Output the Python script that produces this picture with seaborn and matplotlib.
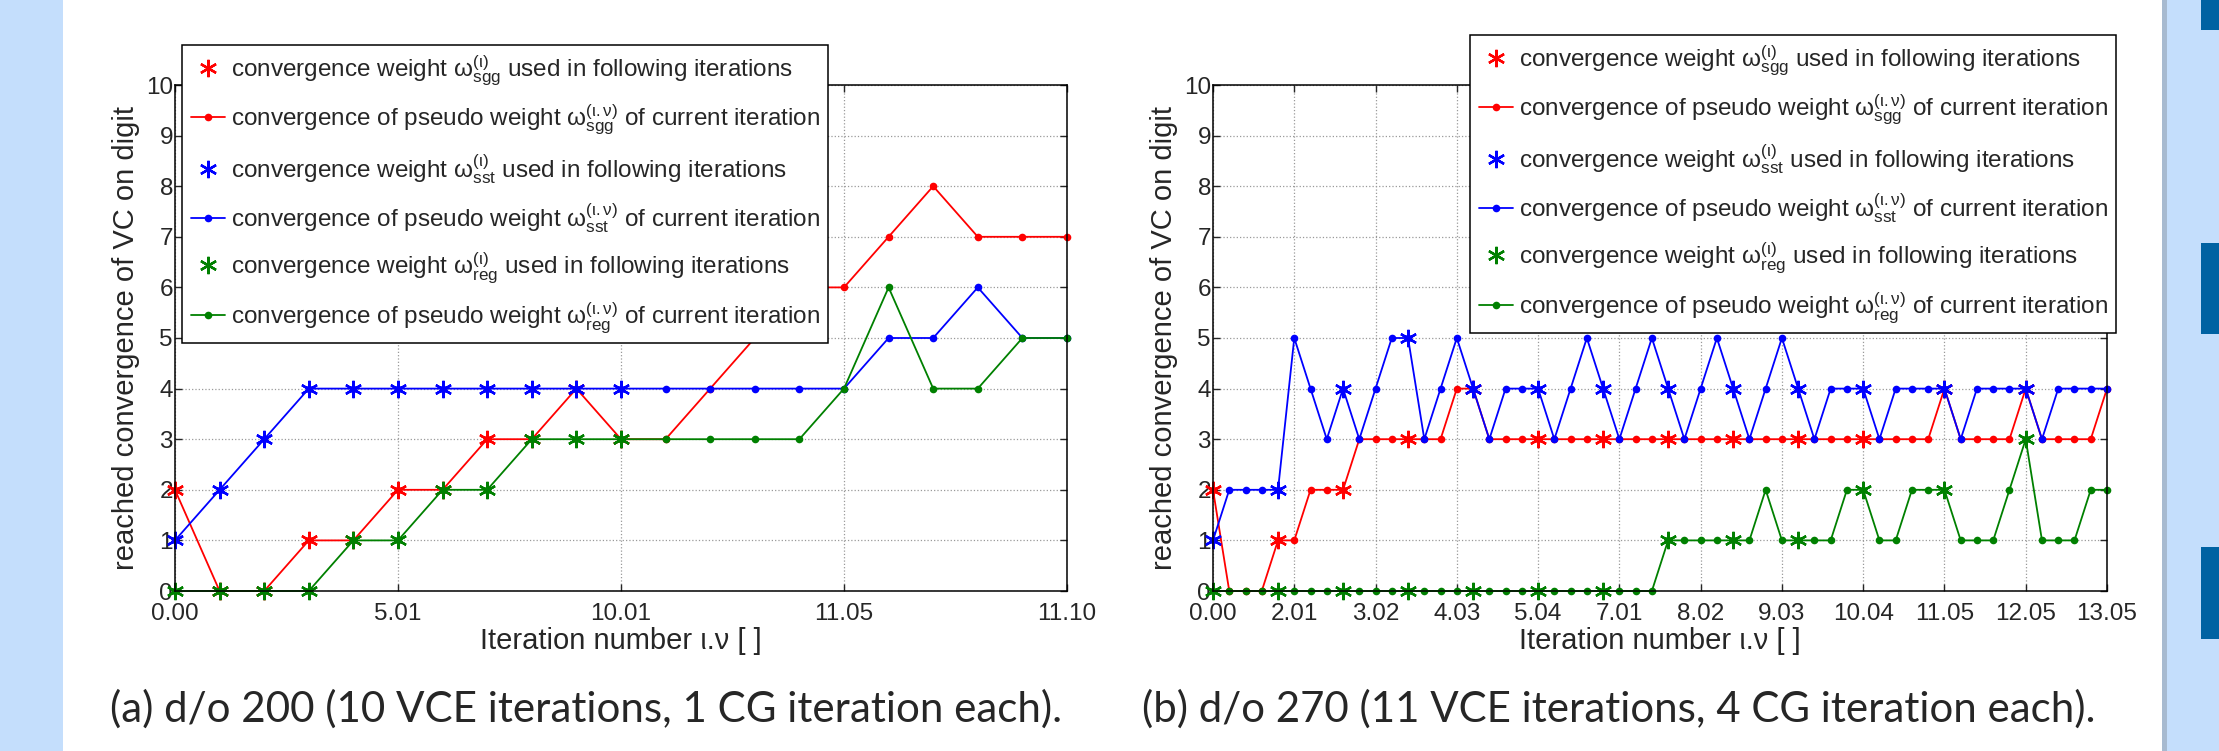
import numpy as np
import pandas as pd
import matplotlib
matplotlib.use('Agg')
import matplotlib.pyplot as plt
import seaborn as sns
from matplotlib import font_manager
from matplotlib.patches import Rectangle

# -------------------------------
# DATA
# -------------------------------
left_ticklabels = ['0.00', '5.01', '10.01', '11.05', '11.10']
left_sgg = [2, 0, 0, 1, 1, 2, 2, 3, 3, 4, 3, 3, 4, 5, 6, 6, 7, 8, 7, 7, 7]
left_sst = [1, 2, 3, 4, 4, 4, 4, 4, 4, 4, 4, 4, 4, 4, 4, 4, 5, 5, 6, 5, 5]
left_reg = [0, 0, 0, 0, 1, 1, 2, 2, 3, 3, 3, 3, 3, 3, 3, 4, 6, 4, 4, 5, 5]
left_final = [0, 1, 2, 3, 4, 5, 6, 7, 8, 9, 10]

right_ticklabels = ['0.00', '2.01', '3.02', '4.03', '5.04', '7.01',
                    '8.02', '9.03', '10.04', '11.05', '12.05', '13.05']
right_sgg = [2, 0, 0, 0, 1, 1, 2, 2, 2, 3,
             3, 3, 3, 3, 3, 4, 4, 3, 3, 3,
             3, 3, 3, 3, 3, 3, 3, 3, 3, 3,
             3, 3, 3, 3, 3, 3, 3, 3, 3, 3,
             3, 3, 3, 3, 3, 4, 3, 3, 3, 3,
             4, 3, 3, 3, 3, 4]
right_sst = [1, 2, 2, 2, 2, 5, 4, 3, 4, 3,
             4, 5, 5, 3, 4, 5, 4, 3, 4, 4,
             4, 3, 4, 5, 4, 3, 4, 5, 4, 3,
             4, 5, 4, 3, 4, 5, 4, 3, 4, 4,
             4, 3, 4, 4, 4, 4, 3, 4, 4, 4,
             4, 3, 4, 4, 4, 4]
right_reg = [0, 0, 0, 0, 0, 0, 0, 0, 0, 0,
             0, 0, 0, 0, 0, 0, 0, 0, 0, 0,
             0, 0, 0, 0, 0, 0, 0, 0, 1, 1,
             1, 1, 1, 1, 2, 1, 1, 1, 1, 2,
             2, 1, 1, 2, 2, 2, 1, 1, 1, 2,
             3, 1, 1, 1, 2, 2]
right_final = [0, 4, 8, 12, 16, 20, 24, 28, 32, 36, 40, 45, 50]

legend_labels = [
    r'convergence weight $\omega^{(\iota)}_{sgg}$ used in following iterations',
    r'convergence of pseudo weight $\omega^{(\iota.\nu)}_{sgg}$ of current iteration',
    r'convergence weight $\omega^{(\iota)}_{sst}$ used in following iterations',
    r'convergence of pseudo weight $\omega^{(\iota.\nu)}_{sst}$ of current iteration',
    r'convergence weight $\omega^{(\iota)}_{reg}$ used in following iterations',
    r'convergence of pseudo weight $\omega^{(\iota.\nu)}_{reg}$ of current iteration',
]
captions = ['(a) d/o 200 (10 VCE iterations, 1 CG iteration each).',
            '(b) d/o 270 (11 VCE iterations, 4 CG iteration each).']

RED, BLUE, GREEN = '#ff0000', '#0000ff', '#008000'
BG = '#c4defc'
DARK = '#0062a2'
STAR = (6, 2, 0)

# -------------------------------
# STYLE
# -------------------------------
sns.set_style('ticks')
plt.rcParams['font.family'] = ['Liberation Sans', 'DejaVu Sans']
plt.rcParams['mathtext.fontset'] = 'custom'
plt.rcParams['mathtext.rm'] = 'Liberation Sans'
plt.rcParams['mathtext.it'] = 'Liberation Sans:italic'
plt.rcParams['mathtext.bf'] = 'Liberation Sans:bold'
plt.rcParams['mathtext.sf'] = 'Liberation Sans'
plt.rcParams['mathtext.default'] = 'rm'

available = {f.name for f in font_manager.fontManager.ttflist}
caption_font = next((f for f in ['Liberation Sans Narrow', 'DejaVu Sans Condensed', 'Lato']
                     if f in available), 'DejaVu Sans')

W, H = 2219, 751
fig = plt.figure(figsize=(W / 100, H / 100), dpi=100)
fig.patch.set_facecolor(BG)

# white page area, shadow and side decoration
fig.add_artist(Rectangle((63 / W, 0), (2162 - 63) / W, 1, transform=fig.transFigure,
                         facecolor='white', edgecolor='none', zorder=-10))
fig.add_artist(Rectangle((2162 / W, 0), 5 / W, 1, transform=fig.transFigure,
                         facecolor='#a7bad0', edgecolor='none', zorder=-10))
for top, bot in [(0, 30), (243, 334), (547, 639)]:
    fig.add_artist(Rectangle((2201 / W, 1 - bot / H), 18 / W, (bot - top) / H,
                             transform=fig.transFigure, facecolor=DARK,
                             edgecolor='none', zorder=-10))


def draw_panel(ax, sgg, sst, reg, final, ticklabels, legend_anchor):
    x = np.arange(len(sgg))
    handles = []
    for vals, col in [(sgg, RED), (sst, BLUE), (reg, GREEN)]:
        df = pd.DataFrame({'x': x, 'y': vals})
        sns.lineplot(data=df.loc[final], x='x', y='y', ax=ax, color=col,
                     marker=STAR, linestyle='none', markersize=12.5,
                     markeredgewidth=1.7, markeredgecolor=col, clip_on=False)
        handles.append(ax.lines[-1])
        sns.lineplot(data=df, x='x', y='y', ax=ax, color=col, marker='o',
                     markersize=5.5, linewidth=1.3, markeredgewidth=0,
                     markeredgecolor=col, clip_on=False)
        handles.append(ax.lines[-1])

    ax.set_xlim(0, len(sgg) - 1)
    ax.set_ylim(0, 10)
    ax.set_xticks(x[::5])
    ax.set_xticklabels(ticklabels)
    ax.set_yticks(range(11))
    ax.tick_params(direction='in', top=True, right=True, length=5, width=1,
                   labelsize=17.5)
    ax.tick_params(axis='x', pad=9)
    ax.tick_params(axis='y', pad=1.5)
    ax.grid(True, linestyle=':', color='#999999', linewidth=0.9)
    ax.set_axisbelow(True)
    for sp in ax.spines.values():
        sp.set_visible(True)
        sp.set_linewidth(1.1)
        sp.set_color('black')
    ax.set_xlabel('Iteration number ι.ν [ ]', fontsize=21, labelpad=1)
    ax.set_ylabel('reached convergence of VC on digit', fontsize=21, labelpad=4)

    leg = ax.legend(handles, legend_labels, loc='upper left',
                    bbox_to_anchor=legend_anchor, bbox_transform=fig.transFigure,
                    borderaxespad=0, fontsize=17.5, frameon=True, fancybox=False,
                    framealpha=1, edgecolor='black', labelspacing=0.62,
                    handlelength=1.4, handletextpad=0.25, borderpad=0.35)
    leg.get_frame().set_linewidth(1.1)
    leg.set_zorder(10)


ax1 = fig.add_axes([175 / W, 1 - 591 / H, (1067 - 175) / W, (591 - 85) / H])
ax2 = fig.add_axes([1213 / W, 1 - 591 / H, (2107 - 1213) / W, (591 - 85) / H])

draw_panel(ax1, left_sgg, left_sst, left_reg, left_final, left_ticklabels,
           (182 / W, 1 - 45 / H))
draw_panel(ax2, right_sgg, right_sst, right_reg, right_final, right_ticklabels,
           (1470 / W, 1 - 35 / H))

# captions, sized to the width they take in the reference
renderer = fig.canvas.get_renderer()
for text, xc, target in [(captions[0], 586, 955), (captions[1], 1619, 954)]:
    t = fig.text(xc / W, 1 - 709 / H, text, ha='center', va='center',
                 fontsize=34, family=[caption_font, 'DejaVu Sans'])
    w = t.get_window_extent(renderer).width
    t.set_fontsize(34 * target / w)

fig.savefig('out.png', dpi=100, facecolor=fig.get_facecolor())
